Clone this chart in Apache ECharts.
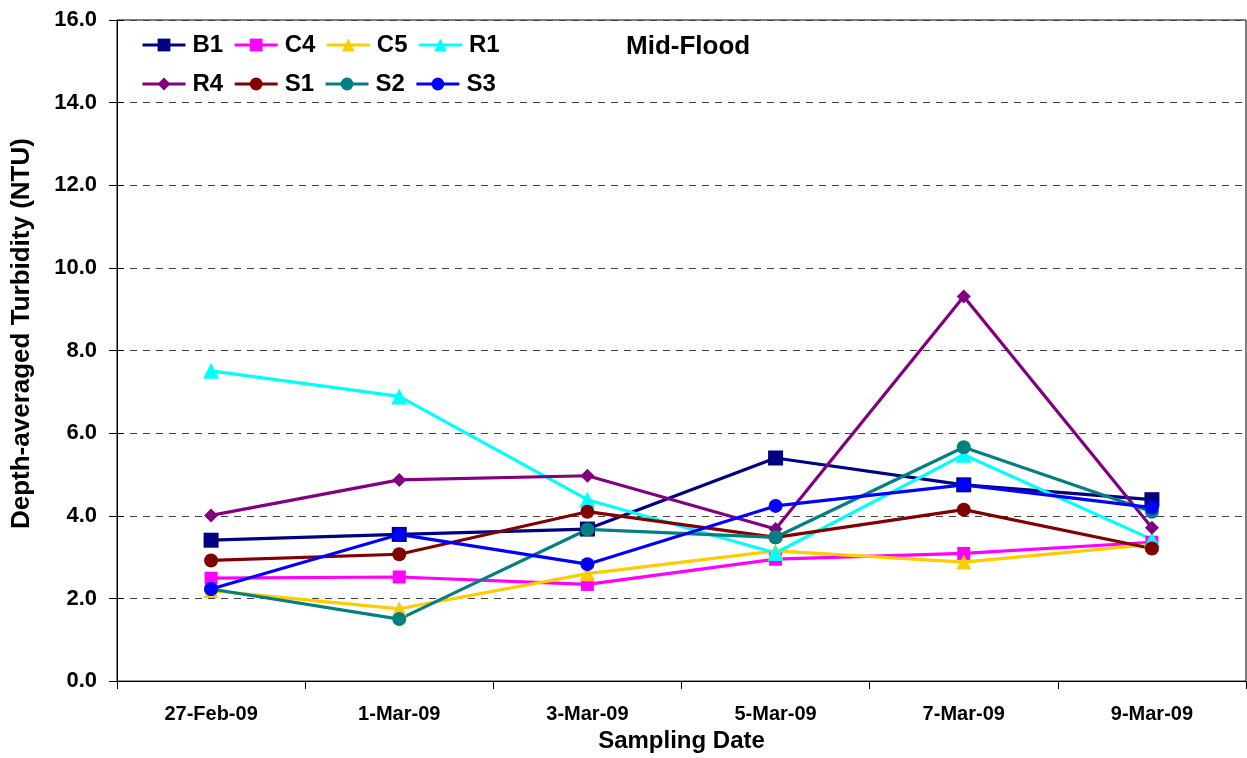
<!DOCTYPE html>
<html>
<head>
<meta charset="utf-8">
<script src="https://cdn.jsdelivr.net/npm/echarts@6/dist/echarts.min.js"></script>
<style>
html,body{margin:0;padding:0;background:#fff;}
#chart{width:1247px;height:758px;}
</style>
</head>
<body>
<div id="chart"></div>
<script>
var categories = ['27-Feb-09', '1-Mar-09', '3-Mar-09', '5-Mar-09', '7-Mar-09', '9-Mar-09'];
var B1 = [3.41, 3.55, 3.68, 5.40, 4.75, 4.39];
var C4 = [2.49, 2.52, 2.34, 2.95, 3.09, 3.36];
var C5 = [2.19, 1.75, 2.60, 3.15, 2.88, 3.31];
var R1 = [7.51, 6.89, 4.39, 3.10, 5.48, 3.43];
var R4 = [4.01, 4.87, 4.97, 3.68, 9.31, 3.71];
var S1 = [2.92, 3.07, 4.10, 3.48, 4.15, 3.21];
var S2 = [2.23, 1.50, 3.67, 3.48, 5.66, 4.10];
var S3 = [2.23, 3.55, 2.83, 4.24, 4.75, 4.20];
var yTicks = [0, 2, 4, 6, 8, 10, 12, 14, 16];

var FONT = "'Liberation Sans', Arial, sans-serif";
var seriesDefs = [
  {name: 'B1', data: B1, color: '#000080', symbol: 'rect', size: 15},
  {name: 'C4', data: C4, color: '#FF00FF', symbol: 'rect', size: 13},
  {name: 'C5', data: C5, color: '#FFCC00', symbol: 'triangle', size: 15},
  {name: 'R1', data: R1, color: '#00FFFF', symbol: 'triangle', size: 16},
  {name: 'R4', data: R4, color: '#800080', symbol: 'diamond', size: 14},
  {name: 'S1', data: S1, color: '#800000', symbol: 'circle', size: 14},
  {name: 'S2', data: S2, color: '#008080', symbol: 'circle', size: 14},
  {name: 'S3', data: S3, color: '#0000FF', symbol: 'circle', size: 14}
];

var legendCommon = {
  orient: 'horizontal',
  left: 141,
  padding: 0,
  itemWidth: 43,
  itemHeight: 16,
  itemGap: 10,
  selectedMode: false,
  lineStyle: {width: 3},
  textStyle: {fontFamily: FONT, fontWeight: 'bold', fontSize: 24, color: '#000', width: 48, padding: [0, 0, 0, 2]}
};

var chart = echarts.init(document.getElementById('chart'), null, {renderer: 'canvas'});
chart.setOption({
  backgroundColor: '#fff',
  animation: false,
  title: {
    text: 'Mid-Flood',
    left: 626,
    top: 34,
    padding: 0,
    textStyle: {fontFamily: FONT, fontWeight: 'bold', fontSize: 26, color: '#000'}
  },
  legend: [
    Object.assign({}, legendCommon, {top: 33, data: ['B1', 'C4', 'C5', 'R1']}),
    Object.assign({}, legendCommon, {top: 72, data: ['R4', 'S1', 'S2', 'S3']})
  ],
  grid: {
    left: 117, right: 1, top: 20, bottom: 71,
    show: true, borderColor: '#000', borderWidth: 1, backgroundColor: 'transparent'
  },
  xAxis: {
    type: 'category',
    data: categories,
    boundaryGap: true,
    name: 'Sampling Date',
    nameLocation: 'middle',
    nameGap: 46,
    nameTextStyle: {fontFamily: FONT, fontWeight: 'bold', fontSize: 24, color: '#000'},
    axisLine: {lineStyle: {color: '#000', width: 1}},
    axisTick: {show: true, inside: false, length: 8, lineStyle: {color: '#000'}},
    axisLabel: {fontFamily: FONT, fontWeight: 'bold', fontSize: 20, color: '#000', margin: 23},
    splitLine: {show: false}
  },
  yAxis: [
    {
      type: 'value',
      min: yTicks[0], max: yTicks[yTicks.length - 1], interval: 2,
      name: 'Depth-averaged Turbidity (NTU)',
      nameLocation: 'middle',
      nameGap: 82,
      nameTextStyle: {fontFamily: FONT, fontWeight: 'bold', fontSize: 26, color: '#000', padding: [0, 0, 0, 34]},
      axisLine: {show: true, lineStyle: {color: '#000', width: 1}},
      axisTick: {show: true, inside: false, length: 8, lineStyle: {color: '#000'}},
      axisLabel: {fontFamily: FONT, fontWeight: 'bold', fontSize: 22, color: '#000', margin: 20,
        formatter: function (v) { return v.toFixed(1); }},
      splitLine: {show: true, lineStyle: {color: '#444', width: 1, type: [7, 6]}}
    },
    {
      type: 'value',
      position: 'left',
      min: yTicks[0], max: yTicks[yTicks.length - 1], interval: 2,
      axisLine: {show: false},
      axisTick: {show: true, inside: true, length: 7, lineStyle: {color: '#000'}},
      axisLabel: {show: false},
      splitLine: {show: false}
    }
  ],
  series: seriesDefs.map(function (s) {
    return {
      name: s.name,
      type: 'line',
      data: s.data,
      yAxisIndex: 0,
      symbol: s.symbol,
      symbolSize: s.size,
      showAllSymbol: true,
      color: s.color,
      lineStyle: {color: s.color, width: 3.2},
      itemStyle: {color: s.color, borderWidth: 0}
    };
  })
});
</script>
</body>
</html>
